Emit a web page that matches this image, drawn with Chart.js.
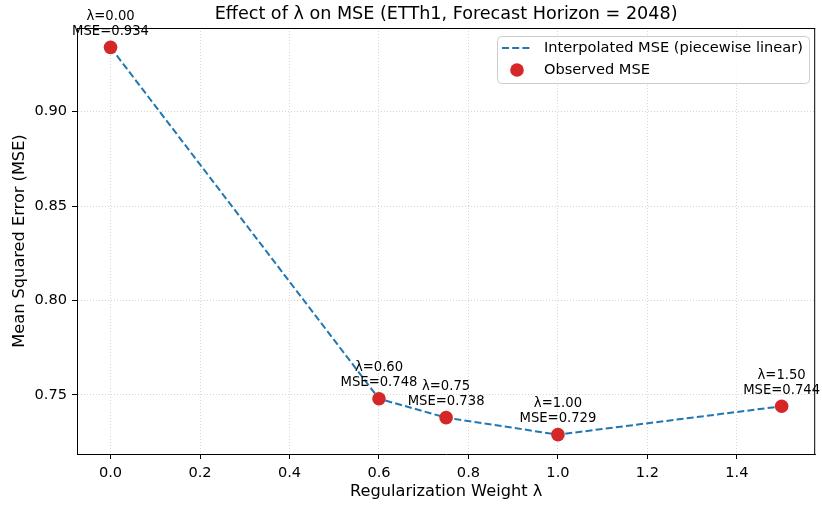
<!DOCTYPE html>
<html><head><meta charset="utf-8">
<script src="https://cdn.jsdelivr.net/npm/chart.js@4.4.1/dist/chart.umd.min.js"></script>
<style>html,body{margin:0;padding:0;background:#fff}canvas{display:block}</style>
</head><body>
<canvas id="c" width="822" height="506"></canvas>
<script>
const lambdas = [0.0, 0.6, 0.75, 1.0, 1.5];
const mseValues = [0.934, 0.748, 0.738, 0.729, 0.744];
const xTicks = [0.0, 0.2, 0.4, 0.6, 0.8, 1.0, 1.2, 1.4];
const yTicks = [0.75, 0.80, 0.85, 0.90];
const titleText = 'Effect of λ on MSE (ETTh1, Forecast Horizon = 2048)';
const xLabel = 'Regularization Weight λ';
const yLabel = 'Mean Squared Error (MSE)';
const legendLabels = ['Interpolated MSE (piecewise linear)', 'Observed MSE'];

const FONT = '"DejaVu Sans", sans-serif';
const BLUE = '#1f77b4';
const RED = '#d62728';
const pts = lambdas.map((x, i) => ({x: x, y: mseValues[i]}));

const extras = {
  id: 'extras',
  afterDraw(chart) {
    const ctx = chart.ctx;
    const a = chart.chartArea;
    const xs = chart.scales.x, ys = chart.scales.y;
    ctx.save();
    ctx.strokeStyle = '#000';
    ctx.lineWidth = 1;
    ctx.beginPath();
    ctx.moveTo(a.left, a.top + 0.5); ctx.lineTo(a.right, a.top + 0.5);
    ctx.moveTo(a.right - 0.5, a.top); ctx.lineTo(a.right - 0.5, a.bottom);
    ctx.stroke();
    ctx.fillStyle = '#000';
    ctx.font = '17.6px ' + FONT;
    ctx.textAlign = 'center';
    ctx.textBaseline = 'middle';
    ctx.fillText(titleText, (a.left + a.right) / 2, 14.5);
    ctx.font = '13.2px ' + FONT;
    lambdas.forEach((l, i) => {
      const px = xs.getPixelForValue(l);
      const py = ys.getPixelForValue(mseValues[i]);
      ctx.fillText('λ=' + l.toFixed(2), px, py - 31);
      ctx.fillText('MSE=' + mseValues[i].toFixed(3), px, py - 16);
    });
    const bx = 497.5, by = 36.5, bw = 312, bh = 47, r = 4;
    ctx.beginPath();
    ctx.moveTo(bx + r, by);
    ctx.arcTo(bx + bw, by, bx + bw, by + bh, r);
    ctx.arcTo(bx + bw, by + bh, bx, by + bh, r);
    ctx.arcTo(bx, by + bh, bx, by, r);
    ctx.arcTo(bx, by, bx + bw, by, r);
    ctx.closePath();
    ctx.fillStyle = 'rgba(255,255,255,0.8)';
    ctx.fill();
    ctx.strokeStyle = '#cccccc';
    ctx.lineWidth = 1;
    ctx.stroke();
    ctx.strokeStyle = BLUE;
    ctx.lineWidth = 2;
    ctx.setLineDash([7, 3.2]);
    ctx.beginPath();
    ctx.moveTo(502, 48); ctx.lineTo(532, 48);
    ctx.stroke();
    ctx.setLineDash([]);
    ctx.fillStyle = RED;
    ctx.beginPath();
    ctx.arc(517, 70, 6.8, 0, Math.PI * 2);
    ctx.fill();
    ctx.fillStyle = '#000';
    ctx.font = '14.6px ' + FONT;
    ctx.textAlign = 'left';
    ctx.fillText(legendLabels[0], 544, 48);
    ctx.fillText(legendLabels[1], 544, 70);
    ctx.restore();
  }
};

const gridCommon = {
  color: 'rgba(180,180,180,0.7)',
  lineWidth: 0.8,
  tickColor: '#000',
  tickWidth: 1,
  tickLength: 5,
  drawTicks: true
};

new Chart(document.getElementById('c'), {
  type: 'scatter',
  data: {
    datasets: [
      {
        type: 'line',
        label: legendLabels[0],
        data: pts,
        borderColor: BLUE,
        borderWidth: 2,
        borderDash: [7, 3.2],
        pointRadius: 0,
        fill: false,
        tension: 0,
        order: 2
      },
      {
        type: 'scatter',
        label: legendLabels[1],
        data: pts,
        backgroundColor: RED,
        borderColor: RED,
        borderWidth: 0,
        pointRadius: 6.8,
        order: 1
      }
    ]
  },
  options: {
    responsive: false,
    animation: false,
    devicePixelRatio: 1,
    layout: {padding: {top: 28, right: 5, left: 0, bottom: 0}},
    plugins: {legend: {display: false}, title: {display: false}, tooltip: {enabled: false}},
    scales: {
      x: {
        type: 'linear',
        min: -0.075,
        max: 1.575,
        afterBuildTicks: s => { s.ticks = xTicks.map(v => ({value: v})); },
        afterFit: s => { s.height = 52; },
        ticks: {color: '#000', font: {family: FONT, size: 14.6}, padding: 5, callback: v => Number(v).toFixed(1), autoSkip: false, maxRotation: 0},
        grid: gridCommon,
        border: {display: true, color: '#000', width: 1, dash: [1, 2]},
        title: {display: true, text: xLabel, color: '#000', font: {family: FONT, size: 16.2}, padding: {top: 0, bottom: 4.5}}
      },
      y: {
        type: 'linear',
        min: 0.71875,
        max: 0.94425,
        afterBuildTicks: s => { s.ticks = yTicks.map(v => ({value: v})); },
        afterFit: s => { s.width = 77; },
        ticks: {color: '#000', font: {family: FONT, size: 14.6}, padding: 5, callback: v => Number(v).toFixed(2), autoSkip: false},
        grid: gridCommon,
        border: {display: true, color: '#000', width: 1, dash: [1, 2]},
        title: {display: true, text: yLabel, color: '#000', font: {family: FONT, size: 16.2}, padding: {top: 10, bottom: 0}}
      }
    }
  },
  plugins: [extras]
});
</script>
</body></html>
